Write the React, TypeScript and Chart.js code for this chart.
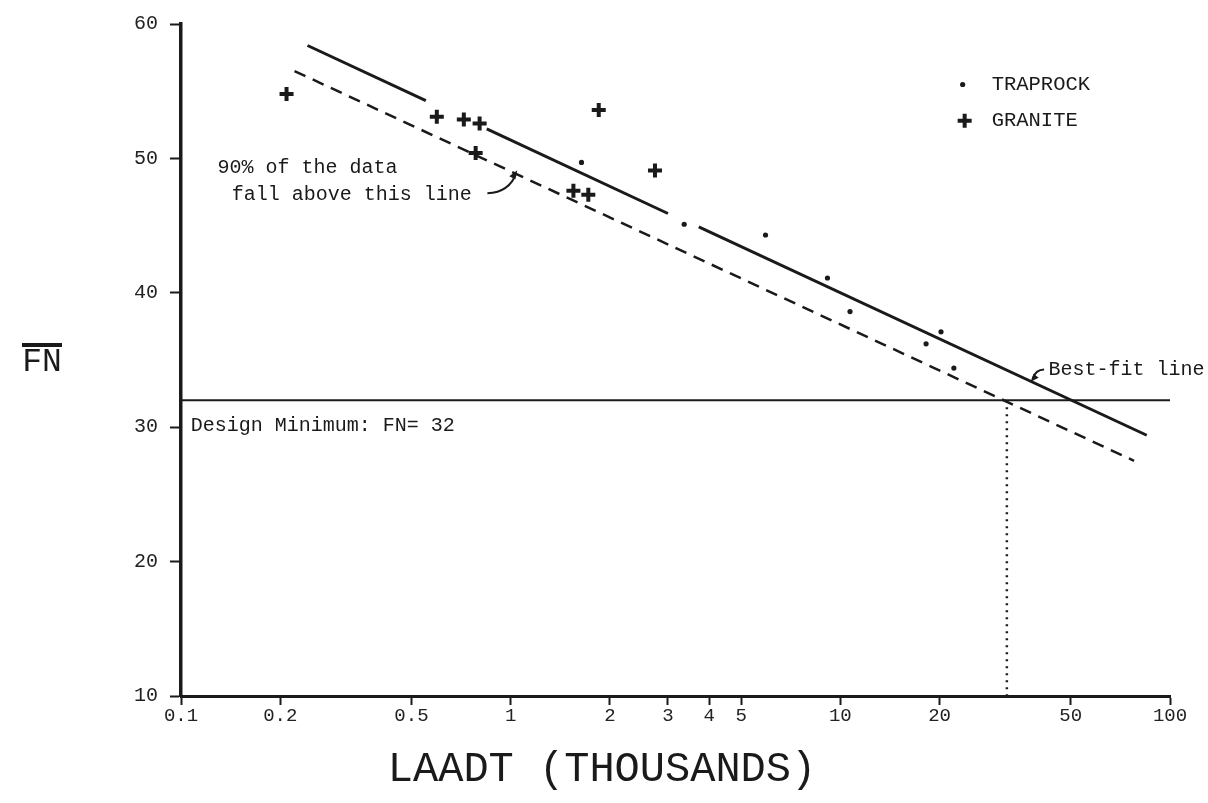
import React, { useEffect, useRef } from "react";
import { Chart, registerables } from "chart.js";

Chart.register(...registerables);

// ---- data ----
const xTickValues = [0.1, 0.2, 0.5, 1, 2, 3, 4, 5, 10, 20, 50, 100];
const yTickValues = [10, 20, 30, 40, 50, 60];

const traprockX = [1.64, 3.36, 5.93, 9.14, 10.7, 20.2, 18.2, 22.1];
const traprockY = [49.7, 45.1, 44.3, 41.1, 38.6, 37.1, 36.2, 34.4];

const graniteX = [0.209, 0.597, 0.721, 0.805, 0.783, 1.85, 2.74, 1.55, 1.72];
const graniteY = [54.8, 53.1, 52.9, 52.6, 50.4, 53.6, 49.1, 47.6, 47.3];

// best-fit line, drawn in three pieces (the original leaves gaps)
const bestFit1X = [0.242, 0.553];
const bestFit1Y = [58.4, 54.3];
const bestFit2X = [0.846, 3.0];
const bestFit2Y = [52.2, 45.9];
const bestFit3X = [3.72, 85];
const bestFit3Y = [44.9, 29.4];

// 90% line (dashed)
const line90X = [0.221, 77.8];
const line90Y = [56.5, 27.5];

// design minimum FN = 32
const designX = [0.1, 100];
const designY = [32, 32];

// vertical dotted drop line
const dropX = [32, 32];
const dropY = [32, 10];

const INK = "#1a1a1a";
const MONO = '"Liberation Mono", "DejaVu Sans Mono", monospace';

const pts = (xs: number[], ys: number[]) => xs.map((x, i) => ({ x, y: ys[i] }));

const overlayPlugin = {
  id: "overlay",
  afterDraw(chart: any) {
    const { ctx } = chart;
    const xs = chart.scales.x;
    const ys = chart.scales.y;
    const px = (v: number) => xs.getPixelForValue(v);
    const py = (v: number) => ys.getPixelForValue(v);
    ctx.save();
    ctx.fillStyle = INK;
    ctx.strokeStyle = INK;
    ctx.textAlign = "left";
    ctx.textBaseline = "middle";

    // annotation: 90% line
    ctx.font = `20px ${MONO}`;
    ctx.fillText("90% of the data", px(0.129), py(49.3));
    ctx.fillText("fall above this line", px(0.1426), py(47.3));
    // curved arrow
    const ax0 = px(0.85), ay0 = py(47.4);
    const ax1 = px(1.04), ay1 = py(48.9);
    ctx.lineWidth = 2;
    ctx.beginPath();
    ctx.moveTo(ax0, ay0);
    ctx.quadraticCurveTo(ax0 + 22, ay0 - 1, ax1, ay1);
    ctx.stroke();
    // arrow head
    ctx.beginPath();
    ctx.moveTo(ax1 + 1, ay1 - 3);
    ctx.lineTo(ax1 - 7, ay1 + 3);
    ctx.lineTo(ax1 - 1, ay1 + 6);
    ctx.closePath();
    ctx.fill();

    // Design minimum text
    ctx.fillText("Design Minimum: FN= 32", px(0.107), py(30.1));

    // Best-fit line label + arrow
    ctx.fillText("Best-fit line", px(42.8), py(34.3));
    const bx0 = px(41.5), by0 = py(34.3);
    const bx1 = px(38.3), by1 = py(33.6);
    ctx.lineWidth = 2;
    ctx.beginPath();
    ctx.moveTo(bx0, by0);
    ctx.quadraticCurveTo(bx1 + 3, by0, bx1, by1);
    ctx.stroke();
    ctx.beginPath();
    ctx.moveTo(bx1 - 2, by1 + 3);
    ctx.lineTo(bx1 + 1, by1 - 5);
    ctx.lineTo(bx1 + 6, by1 - 1);
    ctx.closePath();
    ctx.fill();

    // legend
    const lx = px(23.5);
    const ly1 = py(55.5);
    const ly2 = py(52.8);
    ctx.beginPath();
    ctx.arc(lx, ly1, 2.6, 0, Math.PI * 2);
    ctx.fill();
    ctx.lineWidth = 4;
    ctx.beginPath();
    ctx.moveTo(lx + 2 - 7, ly2);
    ctx.lineTo(lx + 2 + 7, ly2);
    ctx.moveTo(lx + 2, ly2 - 7);
    ctx.lineTo(lx + 2, ly2 + 7);
    ctx.stroke();
    ctx.font = `20.5px ${MONO}`;
    ctx.fillText("TRAPROCK", lx + 29, ly1);
    ctx.fillText("GRANITE", lx + 29, ly2);

    // Y axis title: FN with overline
    ctx.font = `33px ${MONO}`;
    ctx.textAlign = "center";
    ctx.fillText("FN", 42, 362);
    ctx.lineWidth = 4;
    ctx.beginPath();
    ctx.moveTo(22, 345);
    ctx.lineTo(62, 345);
    ctx.stroke();

    // X axis title
    ctx.font = `42px ${MONO}`;
    ctx.fillText("LAADT (THOUSANDS)", 602, 770);

    ctx.restore();
  },
};

export default function App() {
  const ref = useRef<HTMLCanvasElement | null>(null);

  useEffect(() => {
    if (!ref.current) return;
    const lineDs = (label: string, xs: number[], ys: number[], extra: any = {}) => ({
      label,
      data: pts(xs, ys),
      showLine: true,
      pointRadius: 0,
      borderColor: INK,
      backgroundColor: INK,
      borderWidth: 3,
      fill: false,
      ...extra,
    });

    const chart = new Chart(ref.current, {
      type: "scatter",
      data: {
        datasets: [
          lineDs("Design minimum", designX, designY, { borderWidth: 2 }),
          lineDs("Drop", dropX, dropY, { borderWidth: 2.5, borderDash: [2, 5] }),
          lineDs("90% line", line90X, line90Y, { borderWidth: 2.5, borderDash: [12, 8] }),
          lineDs("Best-fit 1", bestFit1X, bestFit1Y),
          lineDs("Best-fit 2", bestFit2X, bestFit2Y),
          lineDs("Best-fit 3", bestFit3X, bestFit3Y),
          {
            label: "TRAPROCK",
            data: pts(traprockX, traprockY),
            pointStyle: "circle",
            pointRadius: 2.6,
            backgroundColor: INK,
            borderColor: INK,
            borderWidth: 0,
          },
          {
            label: "GRANITE",
            data: pts(graniteX, graniteY),
            pointStyle: "cross",
            pointRadius: 7,
            borderColor: INK,
            backgroundColor: INK,
            borderWidth: 4,
          },
        ],
      },
      options: {
        animation: false,
        responsive: true,
        maintainAspectRatio: false,
        layout: { padding: { left: 0, right: 38, top: 17, bottom: 0 } },
        plugins: {
          legend: { display: false },
          tooltip: { enabled: false },
        },
        scales: {
          x: {
            type: "logarithmic",
            min: 0.1,
            max: 100,
            afterBuildTicks: (scale: any) => {
              scale.ticks = xTickValues.map((v) => ({ value: v }));
            },
            afterFit: (scale: any) => {
              scale.height = 107;
            },
            ticks: {
              autoSkip: false,
              maxRotation: 0,
              padding: 0,
              color: "#222",
              font: { family: MONO, size: 19 },
              callback: (v: any) => String(v),
            },
            grid: {
              drawOnChartArea: false,
              drawTicks: true,
              tickLength: 9,
              tickWidth: 2,
              color: INK,
            },
            border: { display: true, width: 3, color: INK },
          },
          y: {
            type: "linear",
            min: 10,
            max: 60,
            afterBuildTicks: (scale: any) => {
              scale.ticks = yTickValues.map((v) => ({ value: v }));
            },
            afterFit: (scale: any) => {
              scale.width = 181;
            },
            ticks: {
              padding: 12,
              color: "#222",
              font: { family: MONO, size: 20 },
            },
            grid: {
              drawOnChartArea: false,
              drawTicks: true,
              tickLength: 11,
              tickWidth: 2,
              color: INK,
            },
            border: { display: true, width: 3.5, color: INK },
          },
        },
      },
      plugins: [overlayPlugin],
    } as any);
    return () => chart.destroy();
  }, []);

  return (
    <div
      style={{
        position: "absolute",
        left: 0,
        top: 0,
        width: 1208,
        height: 803,
        background: "#fff",
      }}
    >
      <canvas ref={ref} />
    </div>
  );
}
